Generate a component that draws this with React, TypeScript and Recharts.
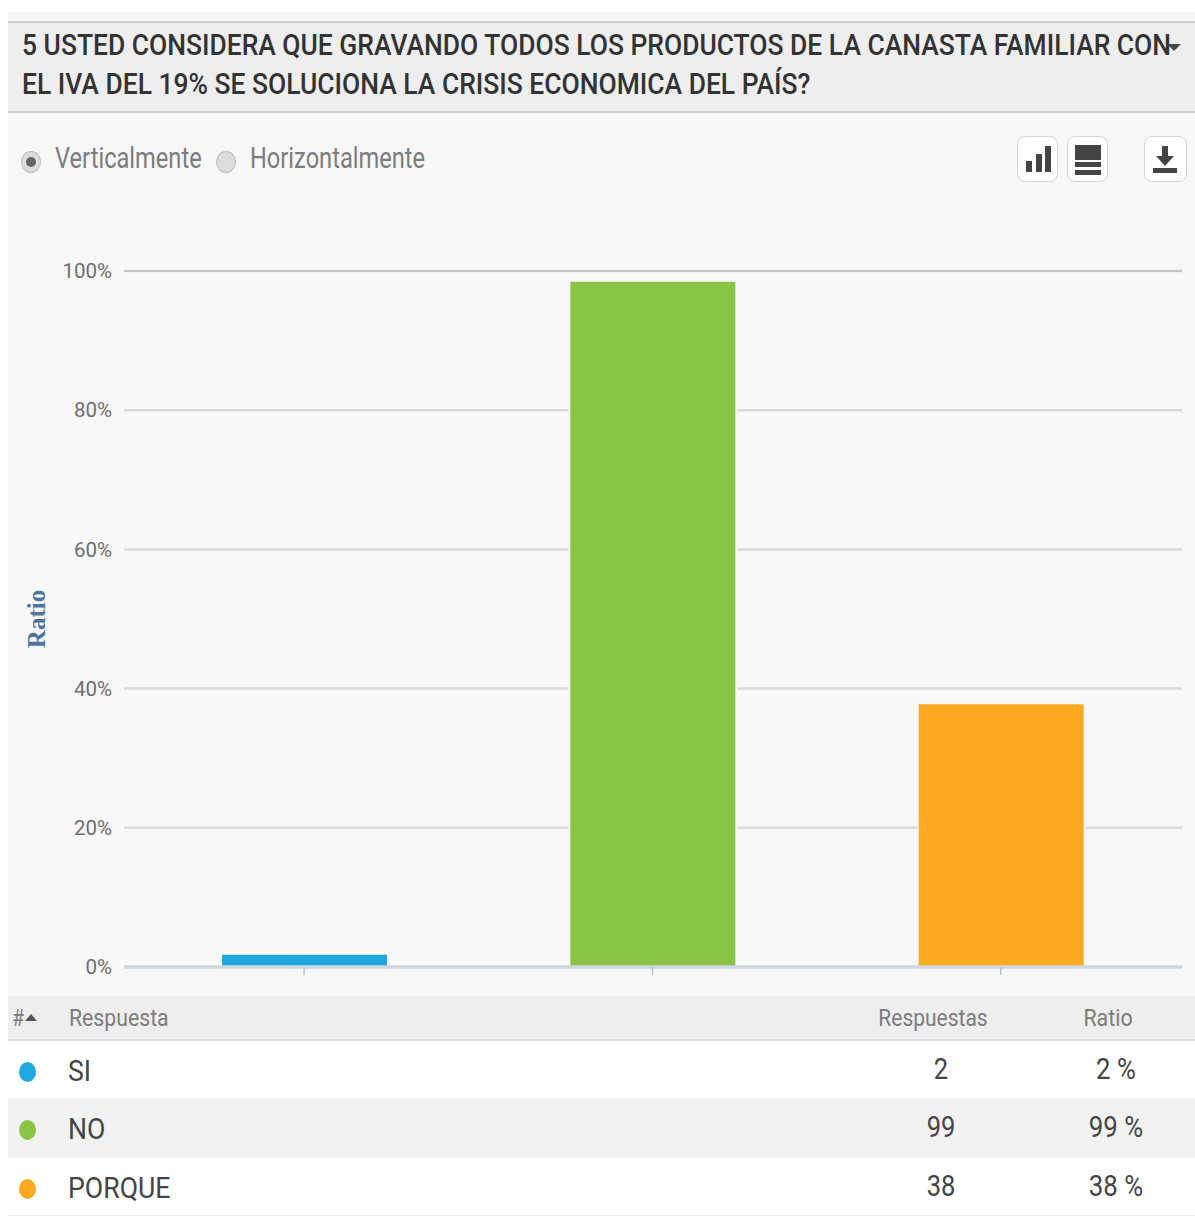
import React from "react";
import { BarChart, Bar, Cell, XAxis, YAxis, CartesianGrid, ReferenceLine, Label } from "recharts";

const titleLines = [
  "5 USTED CONSIDERA QUE GRAVANDO TODOS LOS PRODUCTOS DE LA CANASTA FAMILIAR CON",
  "EL IVA DEL 19% SE SOLUCIONA LA CRISIS ECONOMICA DEL PAÍS?",
];
const categories = ["SI", "NO", "PORQUE"];
const barValues = [1.9, 98.6, 37.9];
const responses = [2, 99, 38];
const ratios = ["2 %", "99 %", "38 %"];
const colors = ["#1fa8e0", "#8ac546", "#fdaa22"];
const yTicks = [0, 20, 40, 60, 80, 100];

const chartData = categories.map((name, i) => ({ name, ratio: barValues[i] }));
const FONT = "Roboto, sans-serif";

function T({ x, y, size, color, text, sx = 0.85, anchor = "left", weight = 400 }: any) {
  const origin = anchor === "center" ? "center" : "left";
  const tx = anchor === "center" ? "translate(-50%,-50%)" : "translateY(-50%)";
  return (
    <div
      style={{
        position: "absolute",
        left: x,
        top: y,
        transform: `${tx} scaleX(${sx})`,
        transformOrigin: origin,
        fontFamily: FONT,
        fontSize: size,
        fontWeight: weight,
        color,
        whiteSpace: "nowrap",
        lineHeight: 1,
      }}
    >
      {text}
    </div>
  );
}

function Box({ x, y, w, h, bg, extra }: any) {
  return <div style={{ position: "absolute", left: x, top: y, width: w, height: h, background: bg, ...extra }} />;
}

function IconBtn({ x, w = 41, children }: any) {
  return (
    <div
      style={{
        position: "absolute",
        left: x,
        top: 136,
        width: w,
        height: 46,
        boxSizing: "border-box",
        border: "1.5px solid #d4d4d4",
        borderRadius: 8,
        background: "#fff",
      }}
    >
      <svg width={w - 3} height={43} style={{ display: "block" }}>
        {children}
      </svg>
    </div>
  );
}

function Radio({ x, on }: any) {
  return (
    <div
      style={{
        position: "absolute",
        left: x - 10,
        top: 151,
        width: 20,
        height: 22,
        boxSizing: "border-box",
        borderRadius: "50%",
        border: "1.5px solid #bbb",
        background: "#ddd",
      }}
    >
      {on && <div style={{ position: "absolute", left: 3.5, top: 4.5, width: 10, height: 10, borderRadius: "50%", background: "#666" }} />}
    </div>
  );
}

const rowY = [1041, 1099, 1158];
const rowH = [58, 59, 58];
const rowBg = ["#ffffff", "#f2f2f2", "#ffffff"];

export default function App() {
  return (
    <div style={{ position: "fixed", left: 0, top: 0, width: 1195, height: 1218, overflow: "hidden", background: "#fff" }}>
      <Box x={8} y={12} w={1187} h={9} bg="#f6f6f6" />
      <Box x={8} y={21} w={1187} h={92} bg="#eeeeee" extra={{ borderTop: "2px solid #cfcfcf", borderBottom: "2px solid #cfcfcf", boxSizing: "border-box" }} />
      <Box x={8} y={113} w={1187} h={883} bg="#f8f8f8" />

      <div style={{ position: "absolute", left: 0, top: 0 }}>
        <BarChart
          width={1195}
          height={996}
          data={chartData}
          margin={{ top: 271, right: 13, bottom: 0, left: 24 }}
          barSize={167}
        >
          <CartesianGrid horizontal vertical={false} stroke="#d9dbde" strokeWidth={2.5} />
          <ReferenceLine y={100} stroke="#c4c4c4" strokeWidth={2} />
          <XAxis
            dataKey="name"
            height={29}
            padding={{ left: 6, right: 7 }}
            tickFormatter={() => ""}
            tickSize={8}
            tickLine={{ stroke: "#b4c2d2", strokeWidth: 1.5 }}
            axisLine={{ stroke: "#cdd8e4", strokeWidth: 3.5 }}
          />
          <YAxis
            type="number"
            domain={[0, 100]}
            ticks={yTicks}
            width={100}
            tickSize={0}
            tickMargin={12}
            axisLine={false}
            tickFormatter={(v: number) => `${v}%`}
            tick={{ fill: "#6e6e6e", fontFamily: FONT, fontSize: 20.5 }}
          >
            <Label
              value="Ratio"
              angle={-90}
              position="insideLeft"
              offset={12}
              style={{ fill: "#4d759e", fontFamily: "'Liberation Serif', serif", fontWeight: 700, fontSize: 25, textAnchor: "middle" }}
            />
          </YAxis>
          <Bar dataKey="ratio" isAnimationActive={false} stroke="#f8f8f8" strokeWidth={2}>
            {chartData.map((d, i) => (
              <Cell key={d.name} fill={colors[i]} />
            ))}
          </Bar>
        </BarChart>
      </div>

      <T x={22} y={45} size={30} color="#333" weight={500} text={titleLines[0]} sx={0.881} />
      <T x={22} y={84} size={30} color="#333" weight={500} text={titleLines[1]} sx={0.881} />
      <div style={{ position: "absolute", left: 1167, top: 44, width: 0, height: 0, borderLeft: "7px solid transparent", borderRight: "7px solid transparent", borderTop: "7px solid #444" }} />

      <Radio x={31} on />
      <T x={55} y={158} size={29} color="#7c7c7c" text="Verticalmente" sx={0.815} />
      <Radio x={226} />
      <T x={250} y={158} size={29} color="#7c7c7c" text="Horizontalmente" sx={0.815} />

      <IconBtn x={1017}>
        <rect x={8} y={24} width={6} height={11} fill="#444" />
        <rect x={18} y={17} width={6} height={18} fill="#444" />
        <rect x={27} y={9} width={6} height={26} fill="#444" />
      </IconBtn>
      <IconBtn x={1067}>
        <rect x={7} y={8} width={26} height={15} fill="#444" />
        <rect x={7} y={25} width={26} height={5} fill="#444" />
        <rect x={7} y={33} width={26} height={5} fill="#444" />
      </IconBtn>
      <IconBtn x={1144} w={43}>
        <rect x={17} y={9} width={6} height={11} fill="#444" />
        <polygon points="11,19 29,19 20,29" fill="#444" />
        <rect x={8} y={31} width={24} height={5} fill="#444" />
      </IconBtn>

      <Box x={8} y={996} w={1187} h={45} bg="#eeeeee" extra={{ borderBottom: "2px solid #dedede", boxSizing: "border-box" }} />
      <T x={12} y={1018} size={23} color="#7c7c7c" text="#" sx={0.85} />
      <div style={{ position: "absolute", left: 25, top: 1014, width: 0, height: 0, borderLeft: "6px solid transparent", borderRight: "6px solid transparent", borderBottom: "7px solid #555" }} />
      <T x={69} y={1018} size={24} color="#7c7c7c" text="Respuesta" sx={0.885} />
      <T x={933} y={1018} size={24} color="#7c7c7c" text="Respuestas" anchor="center" sx={0.875} />
      <T x={1108} y={1018} size={24} color="#7c7c7c" text="Ratio" anchor="center" sx={0.89} />

      {categories.map((c, i) => (
        <React.Fragment key={c}>
          <Box x={8} y={rowY[i]} w={1187} h={rowH[i]} bg={rowBg[i]} extra={{ borderBottom: "1.5px solid #efefef", boxSizing: "border-box" }} />
          <div style={{ position: "absolute", left: 19, top: rowY[i] + 21, width: 17, height: 20, borderRadius: "50%", background: colors[i] }} />
          <T x={68} y={rowY[i] + 29.5} size={29} color="#444" text={c} sx={0.92} />
          <T x={941} y={rowY[i] + 27.5} size={29} color="#444" text={String(responses[i])} anchor="center" sx={0.88} />
          <T x={1116} y={rowY[i] + 27.5} size={29} color="#444" text={ratios[i]} anchor="center" sx={0.89} />
        </React.Fragment>
      ))}
    </div>
  );
}
